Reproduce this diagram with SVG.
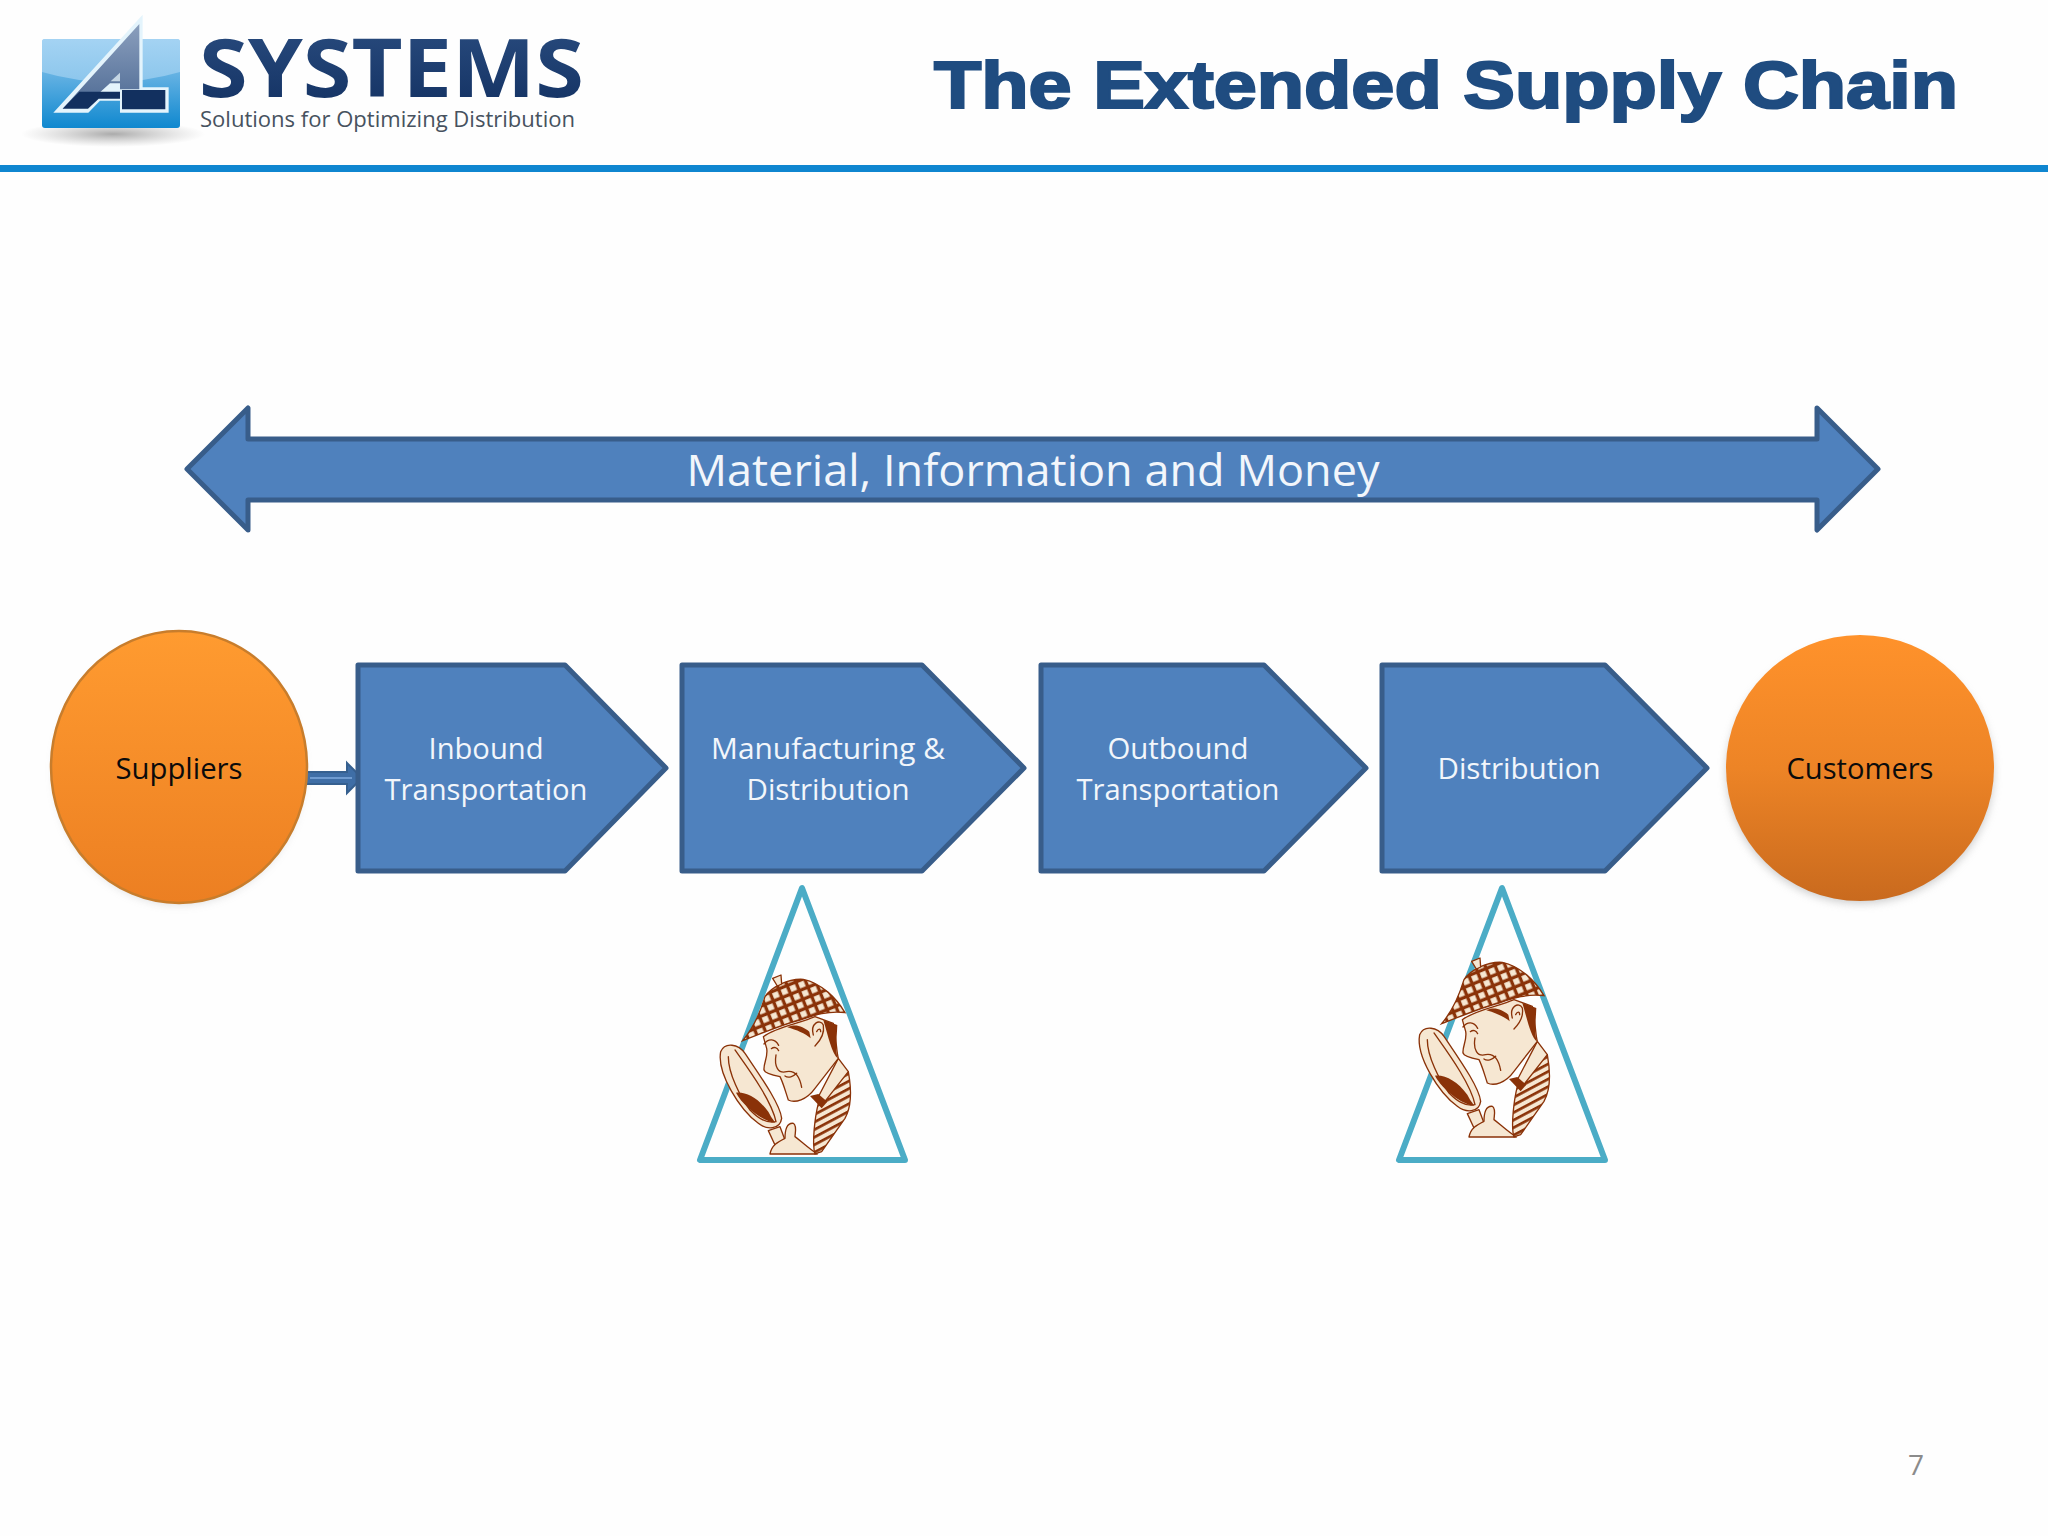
<svg xmlns="http://www.w3.org/2000/svg" width="2048" height="1536" viewBox="0 0 2048 1536">
<style>
.box{fill:#4f81bd;stroke:#385d8a;stroke-width:5;stroke-linejoin:round}
.lbl{font-family:"Open Sans","Noto Sans",sans-serif;font-size:30px;fill:#f2f6fb;text-anchor:middle}
.dark{font-family:"Open Sans","Noto Sans",sans-serif;font-size:30px;fill:#0b0b0b;text-anchor:middle}
.tri{fill:none;stroke:#4bacc6;stroke-width:6;stroke-linejoin:round}
.br{stroke:#8a3208;stroke-width:4;stroke-linejoin:round;fill:#f6e7d2}
.ln{stroke:#8a3208;stroke-width:4;fill:none;stroke-linecap:round;stroke-linejoin:round}
.solid{fill:#8a3208}
</style>
<defs>
<linearGradient id="logoBlue" x1="0" y1="0" x2="0" y2="1"><stop offset="0" stop-color="#9ccdf0"/><stop offset="1" stop-color="#0f88cf"/></linearGradient>
<linearGradient id="logoTop" x1="0" y1="0" x2="0" y2="1"><stop offset="0" stop-color="#a4d3f3"/><stop offset="1" stop-color="#8cc6ec"/></linearGradient>
<linearGradient id="sys" x1="0" y1="0" x2="0" y2="1"><stop offset="0" stop-color="#2c4f82"/><stop offset="1" stop-color="#112f60"/></linearGradient>
<linearGradient id="org1" x1="0" y1="0" x2="0" y2="1"><stop offset="0" stop-color="#ff9b30"/><stop offset="1" stop-color="#ec7f22"/></linearGradient>
<linearGradient id="org2" x1="0" y1="0" x2="0" y2="1"><stop offset="0" stop-color="#ff922b"/><stop offset=".5" stop-color="#ed8426"/><stop offset="1" stop-color="#c96a1e"/></linearGradient>
<linearGradient id="aGrad" x1="0" y1="0" x2="0" y2="1"><stop offset="0" stop-color="#8b9fbd"/><stop offset="1" stop-color="#4d6a94"/></linearGradient>
<radialGradient id="sh"><stop offset="0" stop-color="#8f8f8f" stop-opacity=".75"/><stop offset="1" stop-color="#aaa" stop-opacity="0"/></radialGradient>
<filter id="blur" x="-20%" y="-20%" width="140%" height="140%"><feGaussianBlur stdDeviation="5"/></filter>
<pattern id="check" width="28" height="28" patternUnits="userSpaceOnUse" patternTransform="rotate(-22)"><rect width="28" height="28" fill="#8a3208"/><rect x="6" y="6" width="18" height="18" fill="#f6e7d2"/></pattern>
<pattern id="stripe" width="30" height="20" patternUnits="userSpaceOnUse" patternTransform="rotate(-28)"><rect width="30" height="20" fill="#f6e7d2"/><rect width="30" height="8" fill="#8a3208"/></pattern>
<g id="detective">
<path class="br" d="M62 245C75 215 115 222 135 250C175 310 240 400 245 445C240 480 200 480 175 460C120 420 50 310 62 245Z"/>
<path class="ln" d="M105 240C140 290 215 390 228 455C195 462 170 440 150 420C120 380 85 310 85 260"/>
<path class="solid" d="M108 368C140 365 175 385 205 425C215 445 225 455 225 458C190 455 130 410 108 368Z"/>
<path class="br" d="M205 482L240 470L255 510L225 525Z"/>
<path class="br" d="M210 552C215 525 235 515 255 505C255 480 260 458 280 460C292 468 285 490 285 500C305 515 325 535 352 552Z"/>
<path class="br" d="M345 552C335 520 345 440 355 400L445 305C455 360 455 410 435 445L365 545Z" style="fill:url(#stripe)"/>
<path class="br" d="M350 390L415 265L445 305L372 398Z"/>
<path class="br" d="M190 200C230 170 300 160 345 140L400 160C410 215 410 250 415 265L345 355C320 390 285 400 265 390C255 360 250 340 240 320C215 315 195 310 192 300C190 280 205 260 200 235Z"/>
<path class="solid" d="M370 150L412 165C410 215 405 240 414 266C395 250 385 200 370 150Z"/>
<path class="solid" d="M262 172C290 180 315 190 332 205L328 185C310 170 285 160 262 172Z"/>
<path class="ln" d="M192 222C205 205 225 205 236 226M214 236C222 230 232 232 236 242M228 255C222 290 235 312 260 305C288 300 300 325 305 352M340 195C330 160 360 145 370 165C375 195 358 215 345 228M350 185C355 175 362 175 362 185M290 310C280 320 265 325 255 318"/>
<path class="solid" d="M330 378L355 372L382 395L365 415Z"/>
<path d="M128 212C155 180 180 130 195 80C215 50 265 25 310 28C365 40 410 85 435 128C385 122 345 135 300 150C240 165 175 195 128 212Z" fill="url(#check)" stroke="#8a3208" stroke-width="4"/>
<path class="br" d="M218 25L243 15L245 42L232 48Z"/>
</g>
</defs>
<rect width="2048" height="1536" fill="#fefefe"/>
<g id="logo">
<ellipse cx="113" cy="134" rx="92" ry="13" fill="url(#sh)"/>
<rect x="42" y="39" width="138" height="89" rx="3" fill="url(#logoBlue)"/>
<path d="M42 42Q42 39 45 39H177Q180 39 180 42V72Q111 92 42 72Z" fill="url(#logoTop)"/>
<g transform="translate(20 10) scale(.3333)">
<path fill="#e4f4fc" d="M100 308L368 14V232H446V308H300V272H240L205 308Z"/>
<path fill="url(#aGrad)" d="M128 296L358 42V238H300V220H270L212 272H178Z"/>
<path fill="#12305f" d="M128 296L178 245H300V266H236L204 296ZM306 240H436V298H306Z"/>
<path fill="#c5d6e4" d="M272 214L300 188V214Z"/>
</g>
<text x="199" y="97" font-family="'Open Sans','Noto Sans',sans-serif" font-size="80" font-weight="700" fill="url(#sys)" textLength="385" lengthAdjust="spacingAndGlyphs">SYSTEMS</text>
<text x="200" y="127" font-family="'Open Sans','Noto Sans',sans-serif" font-size="21" fill="#47525f" textLength="375" lengthAdjust="spacingAndGlyphs">Solutions for Optimizing Distribution</text>
</g>
<text id="title" x="934" y="108" font-family="'Liberation Sans',Arial,sans-serif" font-weight="700" font-size="67" fill="#1f4c80" stroke="#1f4c80" stroke-width="2.2" textLength="1024" lengthAdjust="spacingAndGlyphs">The Extended Supply Chain</text>
<rect id="rule" x="0" y="165" width="2048" height="7" fill="#0f86d0"/>
<g id="connectors">
<path d="M305 772H347V763L362 778L347 793V784H305Z" fill="#3f6ea6" stroke="#36608f" stroke-width="2"/>
<path d="M310 778H352" stroke="#6f9bd0" stroke-width="2"/>
</g>
<g id="flow-band">
<path class="box" d="M187 469L248 408V439H1817V408L1878 469L1817 530V500H248V530Z"/>
<text x="1033" y="486" font-family="'Open Sans','Noto Sans',sans-serif" font-size="44" fill="#f2f6fb" text-anchor="middle" textLength="693" lengthAdjust="spacingAndGlyphs">Material, Information and Money</text>
</g>
<g id="suppliers">
<ellipse cx="179" cy="772" rx="124" ry="132" fill="#999" opacity=".35" filter="url(#blur)"/>
<ellipse cx="179" cy="767" rx="128" ry="136" fill="url(#org1)" stroke="#c87d2c" stroke-width="2.5"/>
<text class="dark" x="179" y="779" textLength="127" lengthAdjust="spacingAndGlyphs">Suppliers</text>
</g>
<g id="inbound">
<path class="box" d="M358 665H565L666 768L565 871H358Z"/>
<text class="lbl" x="486" y="759" textLength="115" lengthAdjust="spacingAndGlyphs">Inbound</text>
<text class="lbl" x="486" y="800" textLength="203" lengthAdjust="spacingAndGlyphs">Transportation</text>
</g>
<g id="manufacturing">
<path class="box" d="M682 665H922L1024 768L922 871H682Z"/>
<text class="lbl" x="828" y="759" textLength="234" lengthAdjust="spacingAndGlyphs">Manufacturing &amp;</text>
<text class="lbl" x="828" y="800" textLength="163" lengthAdjust="spacingAndGlyphs">Distribution</text>
</g>
<g id="outbound">
<path class="box" d="M1041 665H1264L1366 768L1264 871H1041Z"/>
<text class="lbl" x="1178" y="759" textLength="141" lengthAdjust="spacingAndGlyphs">Outbound</text>
<text class="lbl" x="1178" y="800" textLength="203" lengthAdjust="spacingAndGlyphs">Transportation</text>
</g>
<g id="distribution">
<path class="box" d="M1382 665H1605L1707 768L1605 871H1382Z"/>
<text class="lbl" x="1519" y="779" textLength="163" lengthAdjust="spacingAndGlyphs">Distribution</text>
</g>
<g id="customers">
<ellipse cx="1860" cy="773" rx="133" ry="130" fill="#999" opacity=".55" filter="url(#blur)"/>
<ellipse cx="1860" cy="768" rx="134" ry="133" fill="url(#org2)"/>
<text class="dark" x="1860" y="779" textLength="147" lengthAdjust="spacingAndGlyphs">Customers</text>
</g>
<g id="inspect-1">
<path class="tri" d="M802 888L700 1160H905Z"/>
<use href="#detective" transform="translate(700 970) scale(.3333)"/>
</g>
<g id="inspect-2">
<path class="tri" d="M1502 888L1399 1160H1605Z"/>
<use href="#detective" transform="translate(1399 953) scale(.3333)"/>
</g>
<text id="page" x="1916" y="1475" font-family="'Open Sans','Noto Sans',sans-serif" font-size="28" fill="#8b8b8b" text-anchor="middle">7</text>
</svg>
